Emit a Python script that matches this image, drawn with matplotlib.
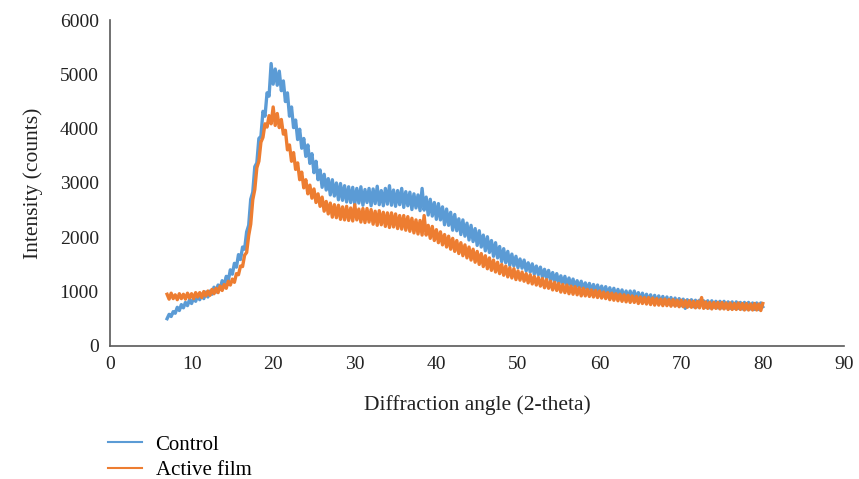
import numpy as np
import matplotlib
matplotlib.use("Agg")
import matplotlib.pyplot as plt

plt.rcParams['font.family'] = ['Liberation Serif', 'DejaVu Serif']

# 2-theta sampled every 0.25 deg from 7 to 80
angle = np.arange(7, 80.001, 0.25)

# intensities, 4 values per degree (one row = one degree)
control = [
    500, 580, 540, 630,
    600, 710, 650, 760,
    700, 800, 740, 850,
    780, 880, 820, 920,
    850, 950, 870, 990,
    900, 1010, 950, 1080,
    990, 1120, 1050, 1200,
    1110, 1280, 1200, 1400,
    1320, 1520, 1450, 1680,
    1590, 1820, 1780, 2100,
    2220, 2700, 2830, 3300,
    3370, 3820, 3860, 4320,
    4230, 4660, 4600, 5200,
    4820, 5100, 4800, 5060,
    4700, 4880, 4500, 4660,
    4230, 4400, 4020, 4160,
    3800, 3990, 3640, 3820,
    3490, 3700, 3360, 3540,
    3190, 3400, 3060, 3240,
    2920, 3160, 2870, 3080,
    2780, 3060, 2760, 3000,
    2690, 2990, 2680, 2950,
    2650, 2930, 2640, 2920,
    2610, 2900, 2630, 2930,
    2590, 2880, 2640, 2900,
    2580, 2890, 2620, 2940,
    2600, 2860, 2580, 2900,
    2610, 2950, 2590, 2870,
    2570, 2860, 2600, 2900,
    2550, 2840, 2580, 2830,
    2510, 2800, 2540, 2780,
    2490, 2900, 2500, 2740,
    2410, 2700, 2390, 2640,
    2330, 2620, 2320, 2560,
    2230, 2520, 2220, 2460,
    2130, 2420, 2120, 2340,
    2050, 2320, 2020, 2260,
    1950, 2220, 1920, 2160,
    1850, 2120, 1820, 2040,
    1750, 2010, 1720, 1940,
    1650, 1900, 1620, 1830,
    1550, 1790, 1530, 1740,
    1480, 1690, 1470, 1650,
    1440, 1600, 1430, 1580,
    1380, 1530, 1360, 1510,
    1320, 1470, 1310, 1450,
    1260, 1410, 1250, 1390,
    1200, 1350, 1190, 1330,
    1150, 1290, 1140, 1280,
    1110, 1250, 1100, 1230,
    1070, 1200, 1060, 1190,
    1030, 1160, 1020, 1150,
    1000, 1130, 990, 1120,
    970, 1100, 960, 1090,
    940, 1070, 930, 1060,
    910, 1040, 910, 1030,
    890, 1010, 880, 1010,
    860, 1010, 860, 980,
    840, 970, 830, 950,
    820, 940, 810, 930,
    800, 920, 790, 910,
    780, 900, 770, 890,
    760, 880, 750, 870,
    740, 860, 690, 850,
    730, 850, 720, 840,
    720, 840, 830, 830,
    710, 830, 700, 830,
    710, 820, 700, 820,
    700, 820, 700, 810,
    690, 810, 690, 810,
    690, 800, 680, 800,
    680, 800, 680, 790,
    670, 790, 670, 790,
    720,
]

active_film = [
    950, 860, 970, 870,
    940, 850, 960, 870,
    950, 860, 970, 880,
    960, 870, 980, 900,
    980, 890, 1000, 920,
    1010, 930, 1040, 960,
    1060, 980, 1100, 1020,
    1130, 1060, 1190, 1120,
    1230, 1170, 1330, 1310,
    1470, 1460, 1670, 1720,
    2030, 2240, 2690, 2880,
    3280, 3400, 3750, 3840,
    4090, 4030, 4240, 4090,
    4400, 4060, 4280, 4020,
    4170, 3900, 3970, 3610,
    3700, 3400, 3560, 3250,
    3370, 3060, 3200, 2910,
    3060, 2800, 2960, 2720,
    2890, 2640, 2800, 2570,
    2740, 2480, 2660, 2430,
    2630, 2370, 2600, 2360,
    2590, 2330, 2560, 2320,
    2570, 2310, 2540, 2300,
    2600, 2320, 2520, 2280,
    2530, 2270, 2530, 2280,
    2510, 2240, 2480, 2220,
    2490, 2230, 2460, 2200,
    2450, 2180, 2450, 2190,
    2430, 2160, 2400, 2150,
    2400, 2130, 2380, 2110,
    2350, 2080, 2320, 2060,
    2310, 2040, 2400, 2040,
    2220, 1980, 2200, 1940,
    2140, 1900, 2100, 1860,
    2050, 1820, 2020, 1780,
    1980, 1740, 1940, 1700,
    1900, 1660, 1860, 1620,
    1820, 1580, 1780, 1540,
    1740, 1500, 1700, 1460,
    1660, 1420, 1620, 1390,
    1580, 1360, 1540, 1330,
    1500, 1300, 1470, 1270,
    1440, 1250, 1420, 1220,
    1380, 1210, 1360, 1190,
    1330, 1160, 1310, 1140,
    1280, 1120, 1260, 1100,
    1240, 1070, 1220, 1060,
    1190, 1030, 1170, 1020,
    1150, 990, 1130, 980,
    1120, 960, 1100, 950,
    1090, 940, 1070, 920,
    1060, 920, 1040, 910,
    1030, 900, 1020, 890,
    1010, 880, 990, 870,
    980, 850, 970, 840,
    960, 830, 950, 820,
    940, 810, 930, 800,
    920, 800, 910, 780,
    900, 780, 890, 770,
    890, 760, 880, 750,
    870, 750, 860, 740,
    860, 740, 850, 730,
    850, 730, 840, 720,
    840, 720, 830, 710,
    830, 710, 820, 700,
    820, 700, 890, 690,
    810, 690, 800, 680,
    800, 690, 800, 680,
    800, 680, 790, 670,
    790, 670, 780, 670,
    790, 670, 780, 660,
    780, 660, 770, 660,
    780, 660, 770, 650,
    780,
]

x_ticks = [0, 10, 20, 30, 40, 50, 60, 70, 80, 90]
y_ticks = [0, 1000, 2000, 3000, 4000, 5000, 6000]

fig = plt.figure(figsize=(8.59, 4.79), dpi=100)
ax = fig.add_axes([0.128, 0.278, 0.855, 0.68])

ax.plot(angle, control, color='#5B9BD5', lw=2.4, label='Control')
ax.plot(angle, active_film, color='#ED7D31', lw=2.4, label='Active film')

ax.set_xlim(0, 90)
ax.set_ylim(0, 6000)
ax.set_xticks(x_ticks)
ax.set_yticks(y_ticks)
ax.tick_params(length=0, labelsize=14, colors='#222222')
ax.tick_params(axis='y', pad=8)
ax.tick_params(axis='x', pad=7)

for side in ['top', 'right']:
    ax.spines[side].set_visible(False)
for side in ['left', 'bottom']:
    ax.spines[side].set_color('#595959')
    ax.spines[side].set_linewidth(1.2)

ax.set_xlabel('Diffraction angle (2-theta)', fontsize=15.5, labelpad=16, color='#222222')
ax.set_ylabel('Intensity (counts)', fontsize=15.5, labelpad=12, color='#222222')

leg = fig.legend(loc='upper left', bbox_to_anchor=(0.118, 0.105), frameon=False,
                 fontsize=15, handlelength=1.65, handletextpad=0.65,
                 labelspacing=0.3, borderaxespad=0, borderpad=0.3)
for line in leg.get_lines():
    line.set_linewidth(1.5)

fig.savefig('out.png', dpi=100)
